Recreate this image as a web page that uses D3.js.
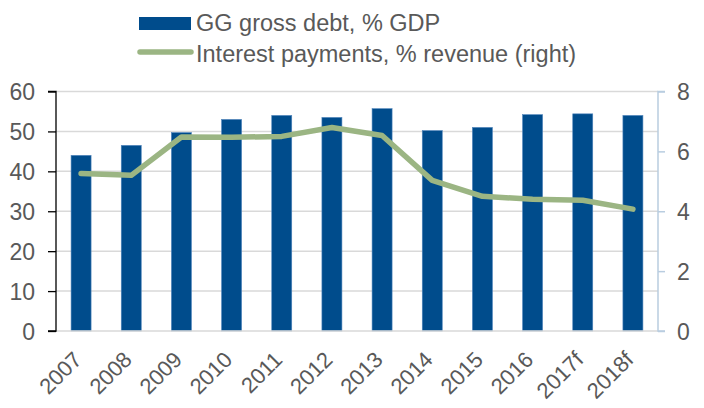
<!DOCTYPE html>
<html><head><meta charset="utf-8">
<script src="https://cdn.jsdelivr.net/npm/d3@7"></script>
<style>body{margin:0;background:#fff}svg{display:block}text{font-family:"Liberation Sans",Arial,sans-serif}</style>
</head><body><svg id="c" width="704" height="408"></svg>
<script>
const years = ["2007","2008","2009","2010","2011","2012","2013","2014","2015","2016","2017f","2018f"];
const debt = [44, 46.5, 49.7, 53, 54, 53.5, 55.7, 50.2, 51, 54.2, 54.4, 54];
const interest = [5.26, 5.2, 6.48, 6.47, 6.5, 6.8, 6.53, 5.03, 4.5, 4.4, 4.37, 4.07];
const leftTicks = [0,10,20,30,40,50,60];
const rightTicks = [0,2,4,6,8];
const seriesNames = ["GG gross debt, % GDP","Interest payments, % revenue (right)"];

const svg = d3.select("#c");
const L = 56, R = 658, T = 91.5, B = 331;
const xc = d3.scaleBand().domain(years).range([L, R]);
const yL = d3.scaleLinear().domain([0,60]).range([B, T]);
const yR = d3.scaleLinear().domain([0,8]).range([B, T]);
const txt = "#595959";
const cx = d => xc(d) + xc.bandwidth()/2;

// gridlines
svg.append("g").selectAll("line").data(leftTicks.slice(1)).join("line")
  .attr("x1", L).attr("x2", R).attr("y1", d=>yL(d)).attr("y2", d=>yL(d))
  .attr("stroke", "#d9d9d9").attr("stroke-width", 1.5);

// bars
svg.append("g").selectAll("rect").data(years).join("rect")
  .attr("x", d=>cx(d)-10).attr("width", 20)
  .attr("y", (d,i)=>yL(debt[i])).attr("height", (d,i)=>B-yL(debt[i]))
  .attr("fill", "#004C8C").attr("stroke", "#4f84bb").attr("stroke-width", 0.6);

// bottom axis line
svg.append("line").attr("x1", L).attr("x2", R).attr("y1", B).attr("y2", B)
  .attr("stroke", "#d9d9d9").attr("stroke-width", 1.5);

// line
const line = d3.line().x((d,i)=>cx(years[i])).y(d=>yR(d));
svg.append("path").datum(interest).attr("d", line).attr("fill","none")
  .attr("stroke", "#9BB583").attr("stroke-width", 5.5).attr("stroke-linejoin","round").attr("stroke-linecap","round");

// left axis
const gl = svg.append("g").attr("transform", `translate(${L},0)`)
  .call(d3.axisLeft(yL).tickValues(leftTicks).tickSize(8).tickPadding(13));
gl.select(".domain").attr("stroke", "#000").attr("stroke-width", 1.3).attr("d", `M-8,${T}H0V${B}H-8`);
gl.selectAll(".tick line").attr("stroke", "#000").attr("stroke-width", 1.3);
gl.selectAll(".tick text").attr("fill", txt).attr("font-size", 23).attr("dy", "0.35em");

// right axis
const gr = svg.append("g").attr("transform", `translate(${R},0)`)
  .call(d3.axisRight(yR).tickValues(rightTicks).tickSize(7).tickPadding(12));
gr.select(".domain").attr("stroke", "#b9cde0").attr("stroke-width", 1.5).attr("d", `M7,${T}H0V${B}H7`);
gr.selectAll(".tick line").attr("stroke", "#b9cde0").attr("stroke-width", 1.5);
gr.selectAll(".tick text").attr("fill", txt).attr("font-size", 23).attr("dy", "0.35em");

// x labels
svg.append("g").selectAll("text").data(years).join("text")
  .attr("transform", d=>`translate(${cx(d)+2},${B+30}) rotate(-45)`)
  .attr("text-anchor", "end")
  .attr("fill", txt).attr("font-size", 22).text(d=>d);

// legend
const lg = svg.append("g");
lg.append("rect").attr("x", 139).attr("y", 17).attr("width", 52).attr("height", 13).attr("fill", "#004C8C");
lg.append("text").attr("x", 196).attr("y", 31).attr("fill", txt).attr("font-size", 23.5).text(seriesNames[0]);
lg.append("line").attr("x1", 140).attr("x2", 191).attr("y1", 52).attr("y2", 52)
  .attr("stroke", "#9BB583").attr("stroke-width", 5.5).attr("stroke-linecap","round");
lg.append("text").attr("x", 196).attr("y", 61.5).attr("fill", txt).attr("font-size", 23.5).text(seriesNames[1]);
</script></body></html>
